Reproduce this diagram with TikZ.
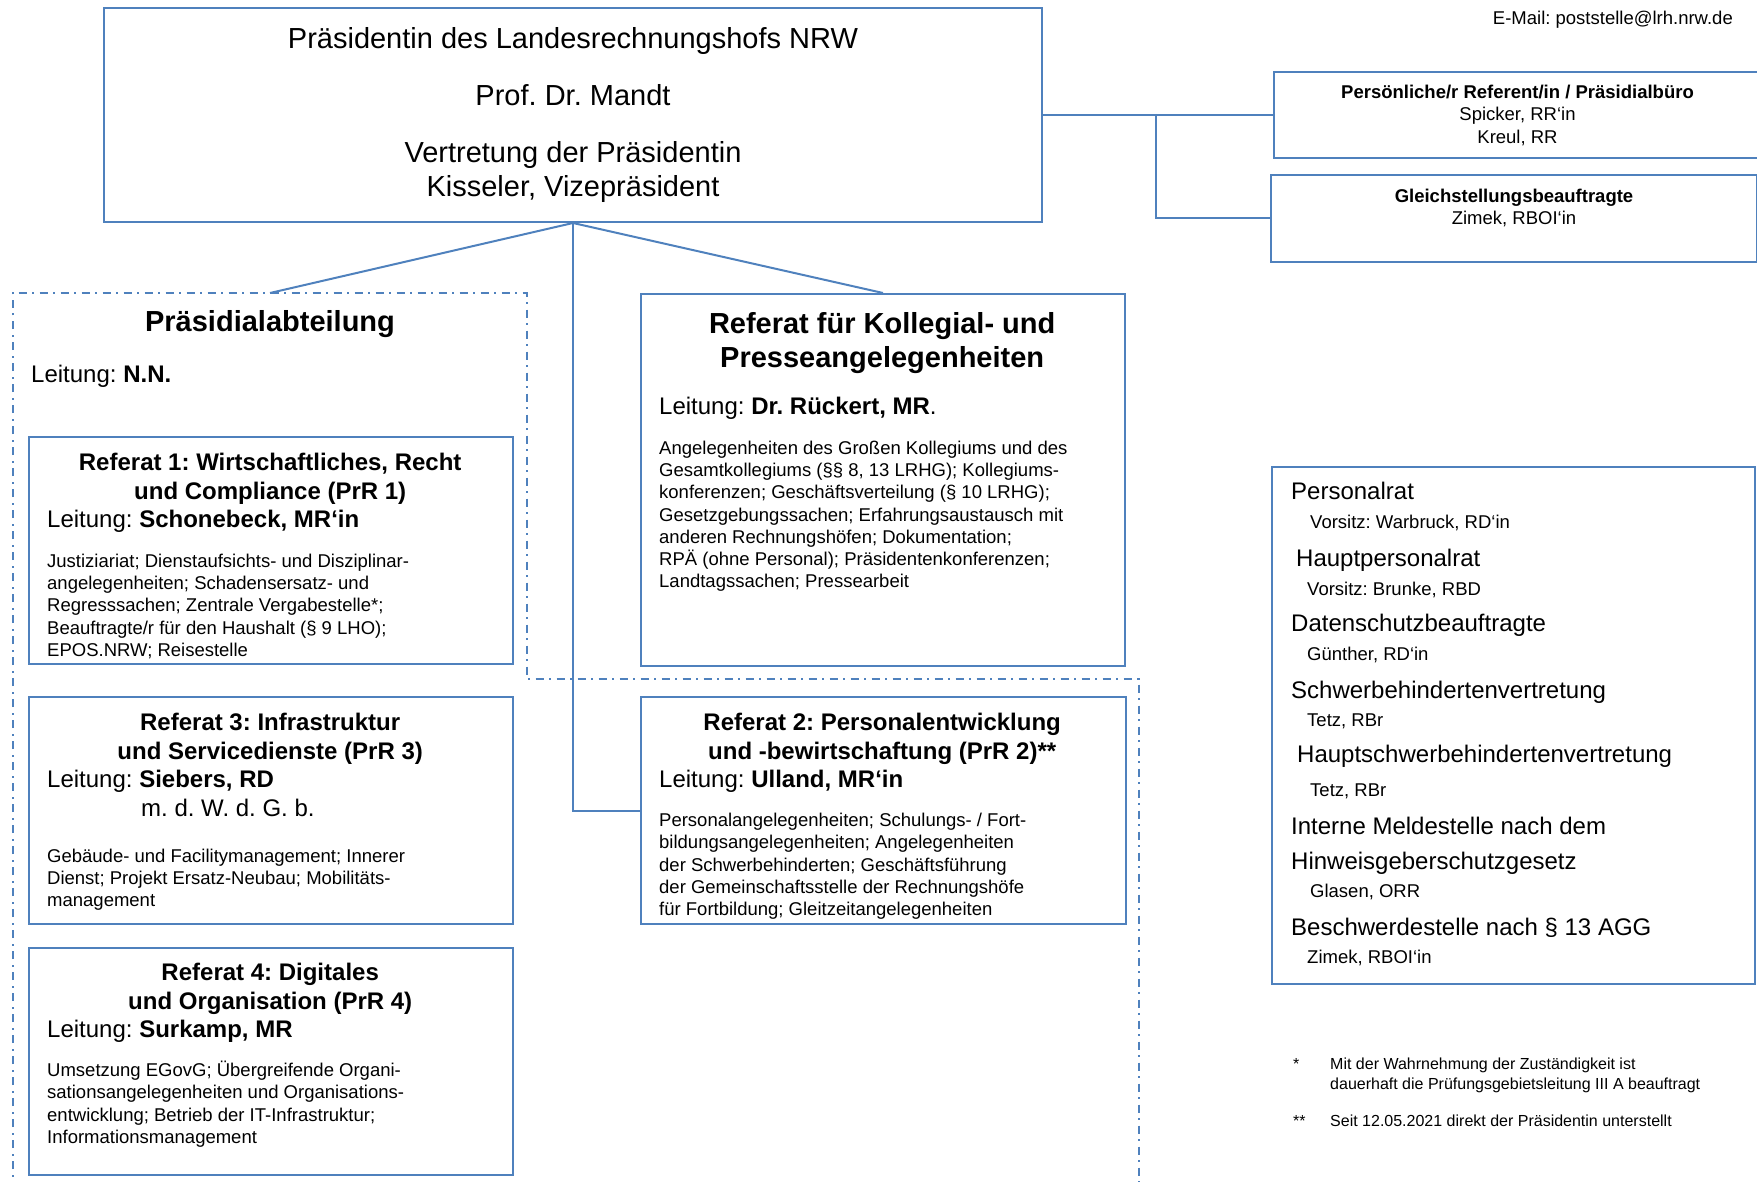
\documentclass[tikz,border=0pt]{standalone}
\usepackage{fontspec}
\setmainfont{Liberation Sans}
\usetikzlibrary{positioning}
\frenchspacing

\definecolor{lrhblue}{RGB}{79,129,189}
\newcommand{\fbig}{\fontsize{29}{34.5}\selectfont}
\newcommand{\fmid}{\fontsize{24}{28.5}\selectfont}
\newcommand{\fsml}{\fontsize{18.5}{22.3}\selectfont}
\newcommand{\ffoot}{\fontsize{16}{20}\selectfont}

\begin{document}
\begin{tikzpicture}[x=1pt,y=-1pt]
  \tikzstyle{box}=[draw=lrhblue, line width=2pt, rectangle, anchor=north west, inner sep=0pt]
  \tikzstyle{txt}=[anchor=north west, inner sep=0pt, align=flush left, text width=446pt]
  \tikzstyle{ctr}=[inner sep=0pt, align=center, font=\fsml]
  \tikzstyle{conn}=[draw=lrhblue, line width=2pt]
  \tikzstyle{abtline}=[conn, dash pattern=on 8pt off 5.5pt on 2pt off 5.5pt]

  \useasboundingbox (0,0) rectangle (1757,1182);

  \node[font=\fsml, anchor=base east, inner sep=0pt] (mail) at (1733,24.5) {E-Mail: poststelle@lrh.nrw.de};

  \node[box, minimum width=938pt, minimum height=214pt, align=center, font=\fbig] (praes) at (103,7)
    {Präsidentin des Landesrechnungshofs NRW\\[23pt] Prof. Dr. Mandt\\[22pt] Vertretung der Präsidentin\\ Kisseler, Vizepräsident};

  \node[box, minimum width=487pt, minimum height=86pt] (pers) at (1273,71) {};
  \node[ctr, below=14pt of pers.north] (perstxt) {\textbf{Persönliche/r Referent/in / Präsidialbüro}\\ Spicker, RR‘in\\ Kreul, RR};
  \node[box, minimum width=486pt, minimum height=87pt] (gleich) at (1270,174) {};
  \node[ctr, below=15pt of gleich.north] (gleichtxt) {\textbf{Gleichstellungsbeauftragte}\\ Zimek, RBOI‘in};

  \draw[abtline] (12.6,1190) -- (12.6,293) -- (527,293) -- (527,679) -- (1139,679) -- (1139,1190);
  \node[font=\fbig, anchor=base, inner sep=0pt] (abt) at (270,332) {\textbf{Präsidialabteilung}};
  \node[font=\fmid, anchor=base west, inner sep=0pt] (abtltg) at (31,382) {Leitung: \textbf{N.N.}};

  \node[box, minimum width=484pt, minimum height=227pt] (ref1) at (28,436) {};
  \node[txt, below right=17pt and 19pt of ref1.north west] (ref1txt) {%
    {\centering\fmid\bfseries Referat 1: Wirtschaftliches, Recht\\ und Compliance (PrR 1)\par}
    {\fmid Leitung: \textbf{Schonebeck, MR‘in}\par}
    \vspace{17.5pt}
    {\fsml Justiziariat; Dienstaufsichts- und Disziplinar-\\ angelegenheiten; Schadensersatz- und\\ Regresssachen; Zentrale Vergabestelle*;\\ Beauftragte/r für den Haushalt (§ 9 LHO);\\ EPOS.NRW; Reisestelle\par}};

  \node[box, minimum width=484pt, minimum height=227pt] (ref3) at (28,696) {};
  \node[txt, below right=17pt and 19pt of ref3.north west] (ref3txt) {%
    {\centering\fmid\bfseries Referat 3: Infrastruktur\\ und Servicedienste (PrR 3)\par}
    {\fmid Leitung: \textbf{Siebers, RD}\par}
    {\fmid\hspace*{94pt}m. d. W. d. G. b.\par}
    \vspace{23.7pt}
    {\fsml Gebäude- und Facilitymanagement; Innerer\\ Dienst; Projekt Ersatz-Neubau; Mobilitäts-\\ management\par}};

  \node[box, minimum width=484pt, minimum height=227pt] (ref4) at (28,947) {};
  \node[txt, below right=16pt and 19pt of ref4.north west] (ref4txt) {%
    {\centering\fmid\bfseries Referat 4: Digitales\\ und Organisation (PrR 4)\par}
    {\fmid Leitung: \textbf{Surkamp, MR}\par}
    \vspace{16.7pt}
    {\fsml Umsetzung EGovG; Übergreifende Organi-\\ sationsangelegenheiten und Organisations-\\ entwicklung; Betrieb der IT-Infrastruktur;\\ Informationsmanagement\par}};

  \node[box, minimum width=484pt, minimum height=372pt] (koll) at (640,293) {};
  \node[txt, below right=19pt and 19pt of koll.north west] (kolltxt) {%
    {\centering\fbig\bfseries Referat für Kollegial- und\\ Presseangelegenheiten\par}
    \vspace{18.7pt}
    {\fmid Leitung: \textbf{Dr. Rückert, MR}.\par}
    \vspace{16.9pt}
    {\fsml Angelegenheiten des Großen Kollegiums und des\\ Gesamtkollegiums (§§ 8, 13 LRHG); Kollegiums-\\ konferenzen; Geschäftsverteilung (§ 10 LRHG);\\ Gesetzgebungssachen; Erfahrungsaustausch mit\\ anderen Rechnungshöfen; Dokumentation;\\ RPÄ (ohne Personal); Präsidentenkonferenzen;\\ Landtagssachen; Pressearbeit\par}};

  \node[box, minimum width=485pt, minimum height=227pt] (ref2) at (640,696) {};
  \node[txt, below right=17pt and 19pt of ref2.north west] (ref2txt) {%
    {\centering\fmid\bfseries Referat 2: Personalentwicklung\\ und -bewirtschaftung (PrR 2)**\par}
    {\fmid Leitung: \textbf{Ulland, MR‘in}\par}
    \vspace{16.7pt}
    {\fsml Personalangelegenheiten; Schulungs- / Fort-\\ bildungsangelegenheiten; Angelegenheiten\\ der Schwerbehinderten; Geschäftsführung\\ der Gemeinschaftsstelle der Rechnungshöfe\\ für Fortbildung; Gleitzeitangelegenheiten\par}};

  \node[box, minimum width=483pt, minimum height=517pt] (gremien) at (1271,465.5) {};
  \foreach \yy/\xx/\gfont/\gtext [count=\i] in {
      499/1291/\fmid/Personalrat,
      528.6/1310/\fsml/{Vorsitz: Warbruck, RD‘in},
      566.6/1296/\fmid/Hauptpersonalrat,
      595.2/1307/\fsml/{Vorsitz: Brunke, RBD},
      631.6/1291/\fmid/Datenschutzbeauftragte,
      660.1/1307/\fsml/{Günther, RD‘in},
      698.2/1291/\fmid/Schwerbehindertenvertretung,
      726.1/1307/\fsml/{Tetz, RBr},
      762.4/1297/\fmid/Hauptschwerbehindertenvertretung,
      796.9/1310/\fsml/{Tetz, RBr},
      834.6/1291/\fmid/Interne Meldestelle nach dem,
      869/1291/\fmid/Hinweisgeberschutzgesetz,
      897.9/1310/\fsml/{Glasen, ORR},
      935.6/1291/\fmid/Beschwerdestelle nach § 13 AGG,
      963.5/1307/\fsml/{Zimek, RBOI‘in}}
    \node[font=\gfont, anchor=base west, inner sep=0pt] (gr\i) at (\xx,\yy) {\gtext};

  \node[font=\ffoot, anchor=base west, inner sep=0pt] (fn1) at (1293,1069) {*};
  \node[font=\ffoot, anchor=north west, inner sep=0pt, align=left] (fn1txt) at (1330,1057.3)
    {Mit der Wahrnehmung der Zuständigkeit ist\\ dauerhaft die Prüfungsgebietsleitung III A beauftragt};
  \node[font=\ffoot, anchor=base west, inner sep=0pt] (fn2) at (1293,1126) {**};
  \node[font=\ffoot, anchor=base west, inner sep=0pt] (fn2txt) at (1330,1126) {Seit 12.05.2021 direkt der Präsidentin unterstellt};

  \coordinate (pa) at (270,293);
  \coordinate (jn) at (1156,114);
  \foreach \from/\to in {praes.south/pa,praes.south/koll.north,praes.east/pers.west}
    \draw[conn] (\from) -- (\to);
  \draw[conn] (praes.south) |- (ref2.west);
  \draw[conn] (jn) |- (gleich.west);
\end{tikzpicture}
\end{document}
